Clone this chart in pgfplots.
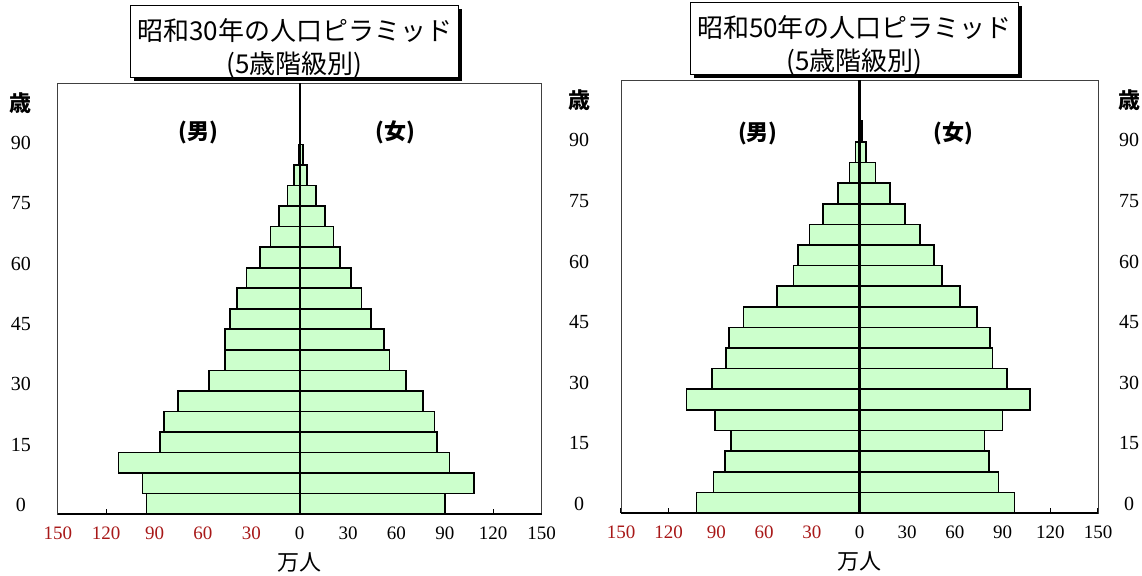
\documentclass[border=0pt]{standalone}
\usepackage{pgfplots}
\pgfplotsset{compat=1.18}
\usepackage{pgfplotstable}
\usepackage{fontspec}
\setmainfont{Liberation Serif}
\newfontfamily\jp{Noto Sans CJK JP}
\usetikzlibrary{shadows}
\definecolor{barfill}{RGB}{204,255,204}
\definecolor{dred}{RGB}{168,24,24}

% age class midpoint, male (negative), female -- 万人
\pgfplotstableread{
age m f
2.5 -94.9 90.1
7.5 -97.5 108.2
12.5 -112.3 93.0
17.5 -86.7 85.1
22.5 -84.2 83.7
27.5 -75.6 76.5
32.5 -56.3 65.8
37.5 -46.5 55.6
42.5 -46.5 52.2
47.5 -43.1 44.2
52.5 -38.8 38.3
57.5 -32.9 31.8
62.5 -24.5 25.0
67.5 -18.2 20.9
72.5 -12.7 15.7
77.5 -7.6 10.0
82.5 -3.5 4.6
87.5 -0.4 2.0
}\showaS

\pgfplotstableread{
age m f
2.5 -102.5 97.4
7.5 -91.9 87.5
12.5 -84.5 81.3
17.5 -81.0 78.5
22.5 -90.7 90.0
27.5 -108.7 107.1
32.5 -92.6 92.8
37.5 -83.8 83.6
42.5 -82.2 82.0
47.5 -73.0 73.9
52.5 -51.8 63.3
57.5 -41.4 51.8
62.5 -38.5 46.7
67.5 -31.5 38.0
72.5 -22.8 28.8
77.5 -13.6 19.0
82.5 -6.2 10.0
87.5 -2.5 4.1
92.5 -0.5 1.5
}\showaF

\newcommand\ttl[1]{\smash{\raisebox{-7.5pt}{\begin{tabular}{@{}c@{}}#1\\[0.5pt](5歳階級別)\end{tabular}}}}

\pgfplotsset{
  pyr/.style={
    scale only axis, anchor=south west, clip=false,
    xmin=-150, xmax=150, ymin=0, ymax=105,
    /pgf/number format/assume math mode=true,
    xtick={-150,-120,...,150},
    xticklabels={\textcolor{dred}{150},\textcolor{dred}{120},\textcolor{dred}{90},\textcolor{dred}{60},\textcolor{dred}{30},0,30,60,90,120,150},
    xtick pos=left, tick align=inside, major tick length=2.5pt,
    tick style={black, line width=0.6pt},
    ytick style={draw=none},
    ytick={2.2,16.9,31.6,46.3,61,75.7,90.4,100.2},
    yticklabels={0,15,30,45,60,75,90,{\jp\bfseries\fontsize{11}{12}\selectfont 歳}},
    axis line style={black!75, line width=0.5pt},
    xticklabel style={anchor=center, yshift=-9.5pt, font=\fontsize{9.5}{10}\selectfont},
    xlabel={\jp 万人},
    xlabel style={at={(axis description cs:0.5,0)}, anchor=center, yshift=-24pt, font=\fontsize{11}{12}\selectfont},
    title style={at={(axis description cs:0.5,1)}, anchor=south, xshift=-2.5pt, yshift=-3.5pt,
      draw=black, line width=0.5pt, fill=white, minimum width=164pt, minimum height=36pt,
      align=center, inner sep=0pt, font=\jp\fontsize{13}{16}\selectfont,
      drop shadow={shadow xshift=1.5pt, shadow yshift=-1.5pt, fill=black, opacity=1}},
  },
  bars/.style={xbar, bar width=5, bar shift=0pt, draw=black, line width=0.8pt, fill=barfill},
}
\tikzset{sexlabel/.style={font=\jp\bfseries\fontsize{11}{12}\selectfont}}

\begin{document}
\begin{tikzpicture}
\useasboundingbox (0,0) rectangle (571pt,287.5pt);

\begin{axis}[pyr, at={(28.9pt,30.5pt)}, width=241.9pt, height=215.5pt,
  yticklabel style={anchor=center, xshift=-18.4pt, font=\fontsize{10}{12}\selectfont},
  title={\ttl{昭和30年の人口ピラミッド}}]
  \addplot[bars] table[x=m, y=age] {\showaS};
  \addplot[bars] table[x=f, y=age] {\showaS};
  \draw[line width=1.1pt] (axis cs:0,0) -- (axis cs:0,105);
  \draw[line width=1pt] (rel axis cs:0,0) -- (rel axis cs:1,0);
  \node[sexlabel] at (axis cs:-62.9,93) {(男)};
  \node[sexlabel] at (axis cs:59.3,93) {(女)};
\end{axis}

\begin{axis}[pyr, at={(310.5pt,31pt)}, width=238.5pt, height=216.5pt,
  yticklabel style={anchor=center, xshift=-21pt, font=\fontsize{10}{12}\selectfont},
  title={\ttl{昭和50年の人口ピラミッド}}]
  \addplot[bars] table[x=m, y=age] {\showaF};
  \addplot[bars] table[x=f, y=age] {\showaF};
  \draw[line width=1.1pt] (axis cs:0,0) -- (axis cs:0,105);
  \draw[line width=1pt] (rel axis cs:0,0) -- (rel axis cs:1,0);
  \node[sexlabel] at (axis cs:-63.9,92.1) {(男)};
  \node[sexlabel] at (axis cs:59.1,92.1) {(女)};
\end{axis}

% right-hand age labels of the second chart
\begin{axis}[scale only axis, anchor=south west, at={(310.5pt,31pt)}, width=238.5pt, height=216.5pt,
  xmin=-150, xmax=150, ymin=0, ymax=105,
  axis line style={draw=none}, xtick=\empty,
  ytick={2.2,16.9,31.6,46.3,61,75.7,90.4,100.2},
  yticklabels={0,15,30,45,60,75,90,{\jp\bfseries\fontsize{11}{12}\selectfont 歳}},
  ytick style={draw=none}, yticklabel pos=right,
  yticklabel style={anchor=center, xshift=15.5pt, font=\fontsize{10}{12}\selectfont}]
\end{axis}
\end{tikzpicture}
\end{document}
